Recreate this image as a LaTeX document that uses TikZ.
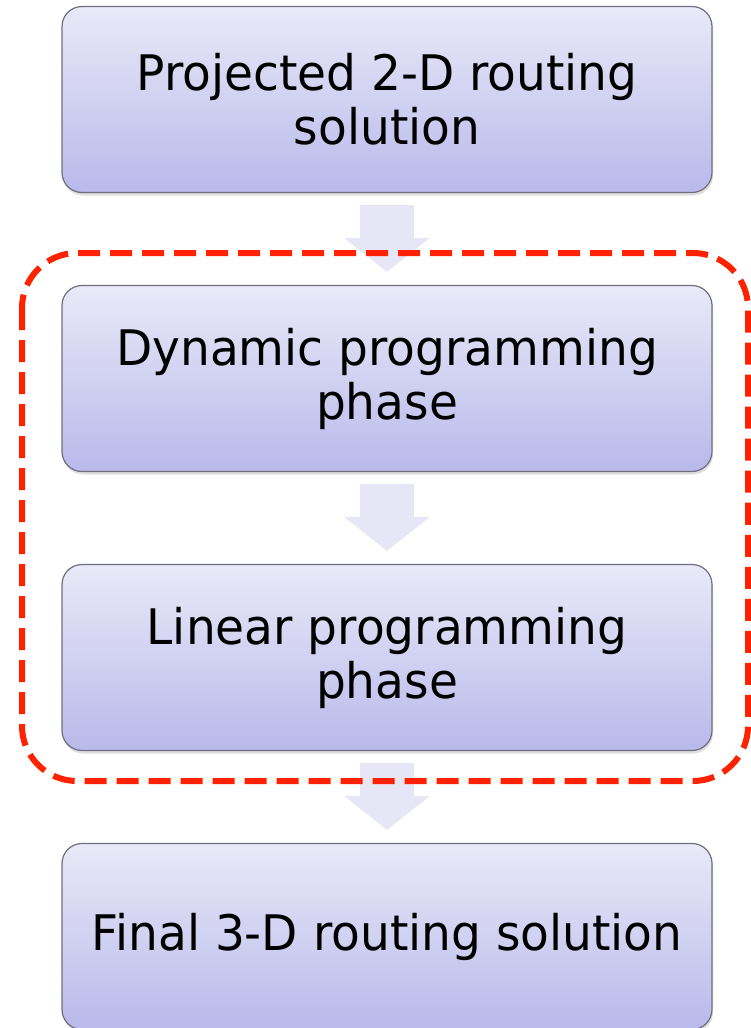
\documentclass[tikz,border=0pt]{standalone}
\usepackage{fontspec}
\setmainfont[FakeStretch=0.96]{DejaVu Sans}
\usetikzlibrary{arrows.meta,shadows}

\definecolor{boxtop}{HTML}{E9E9F8}
\definecolor{boxbot}{HTML}{B9B9EB}
\definecolor{boxline}{HTML}{6E6E80}
\definecolor{arrowfill}{HTML}{E6E6F6}
\definecolor{markred}{HTML}{FF2200}

\begin{document}
\begin{tikzpicture}[x=1pt,y=-1pt]
        \useasboundingbox (0,0) rectangle (750,1028);

        \begin{scope}[every node/.style={rounded corners=20pt, draw=boxline, line width=1.2pt,
            top color=boxtop, bottom color=boxbot,
            drop shadow={opacity=0.25, shadow xshift=1pt, shadow yshift=-3pt},
            minimum width=650pt, minimum height=186pt, align=center,
            font=\fontsize{49}{54}\selectfont}]
          \node (p2d) at (387,99.5)  {Projected 2-D routing\\solution};
          \node (dp)  at (387,378.5) {Dynamic programming\\phase};
          \node (lp)  at (387,657.5) {Linear programming\\phase};
          \node (f3d) at (387,936.5) {Final 3-D routing solution};
        \end{scope}

        \begin{scope}[every edge/.style={draw=arrowfill, line width=54pt,
            -{Triangle[width=84pt,length=34pt]}, shorten <=12pt, shorten >=13pt}]
          \path (p2d) edge (dp);
          \path (dp)  edge (lp);
          \path (lp)  edge (f3d);
        \end{scope}

        % the two phases
        \draw[markred, line width=6pt, dash pattern=on 22pt off 10pt, rounded corners=55pt]
          (22,253) rectangle (748,781);

      \end{tikzpicture}
\end{document}
